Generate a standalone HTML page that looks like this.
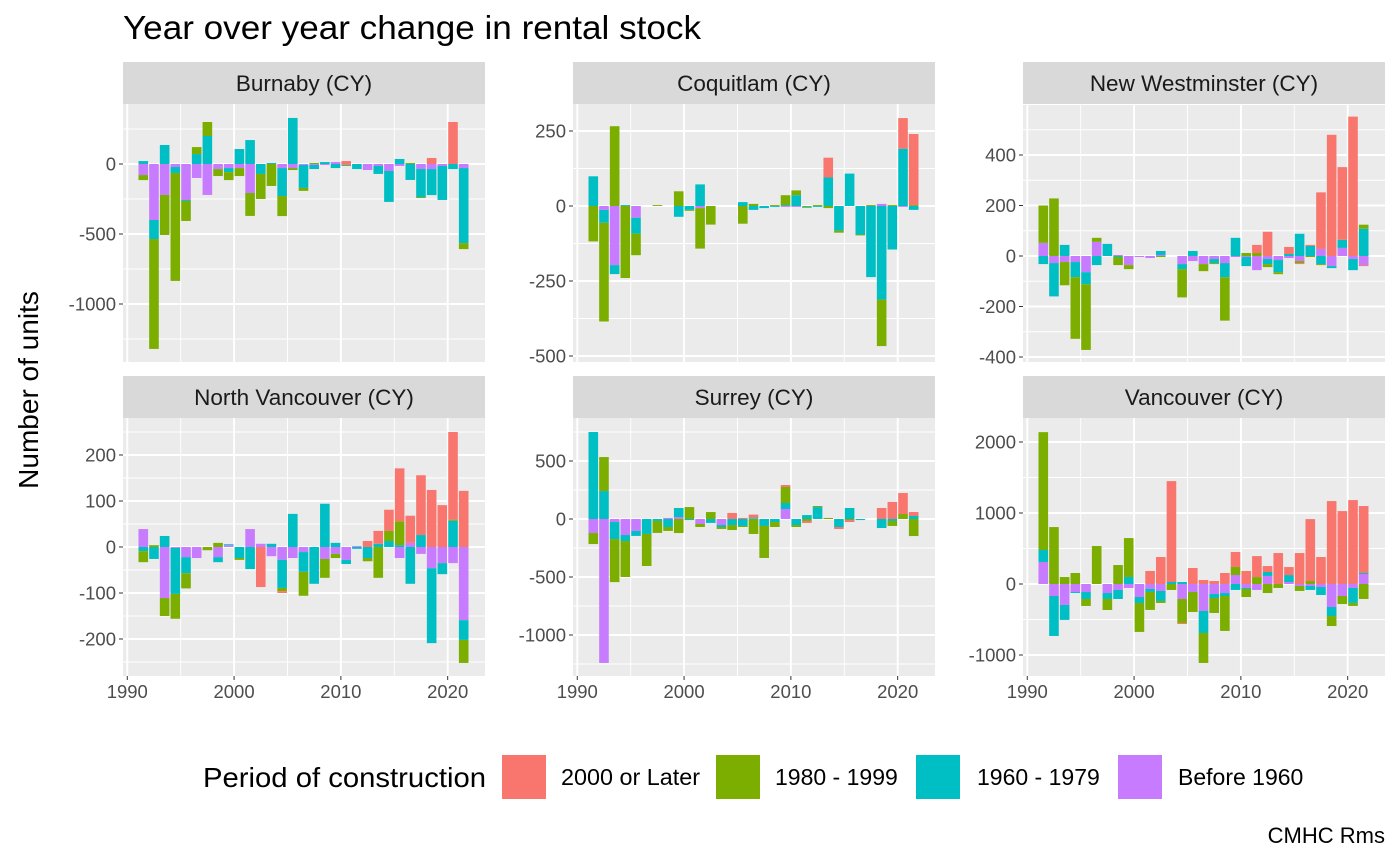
<!DOCTYPE html>
<html><head><meta charset="utf-8"><style>
body{margin:0;background:#fff;}
svg{display:block;font-family:"Liberation Sans",Arial,sans-serif;}
</style></head><body>
<svg id="chart" width="1400" height="865" viewBox="0 0 1400 865" xmlns="http://www.w3.org/2000/svg">
<rect width="1400" height="865" fill="#fff"/>
<text x="123" y="39" font-size="33" fill="#000" textLength="578" lengthAdjust="spacingAndGlyphs">Year over year change in rental stock</text>
<text transform="translate(38,390) rotate(-90)" text-anchor="middle" font-size="28" fill="#000">Number of units</text>
<g>
<text x="203" y="787" font-size="28" fill="#000" textLength="283" lengthAdjust="spacingAndGlyphs">Period of construction</text>
<rect x="502" y="755" width="44" height="44" fill="#F8766D"/>
<text x="561" y="785" font-size="23" fill="#000" textLength="139" lengthAdjust="spacingAndGlyphs">2000 or Later</text>
<rect x="716" y="755" width="44" height="44" fill="#7CAE00"/>
<text x="775" y="785" font-size="23" fill="#000">1980 - 1999</text>
<rect x="916" y="755" width="44" height="44" fill="#00BFC4"/>
<text x="977" y="785" font-size="23" fill="#000">1960 - 1979</text>
<rect x="1118" y="755" width="44" height="44" fill="#C77CFF"/>
<text x="1178" y="785" font-size="23" fill="#000">Before 1960</text>
</g>
<text x="1385" y="843" text-anchor="end" font-size="22" fill="#000">CMHC Rms</text>
</svg>
<script>
const years = [1991,1992,1993,1994,1995,1996,1997,1998,1999,2000,2001,2002,2003,2004,2005,2006,2007,2008,2009,2010,2011,2012,2013,2014,2015,2016,2017,2018,2019,2020,2021];
const categories = ["2000 or Later","1980 - 1999","1960 - 1979","Before 1960"];
const xTicks = [1990,2000,2010,2020];

const burnabyLater = [0,0,0,0,0,0,0,0,0,0,0,0,0,0,0,0,0,0,0,21,0,0,0,0,0,0,0,43,0,300,0];
const burnaby1980 = [-36,-785,-286,-771,-143,50,100,-50,-57,-57,-164,-179,-157,-143,-14,-21,7,0,0,-7,0,0,0,0,0,7,-7,0,0,0,-43];
const burnaby1960 = [21,-136,136,-43,-7,71,200,0,-29,107,171,-71,7,-200,329,-164,-29,14,-29,0,-36,0,-57,-221,36,-114,-200,-186,-243,-36,-536];
const burnabyPre = [-79,-400,-221,-21,-257,-100,-221,-36,-29,-29,-207,0,0,-29,-29,-7,-7,-7,14,-7,0,-43,-14,-50,-14,0,-36,-36,-14,0,-29];
const burnabyTicks = [-1000,-500,0];

const coquitlamLater = [0,0,0,0,0,0,0,0,0,0,0,0,0,0,0,0,0,0,0,0,0,0,66,0,0,0,0,0,0,102,237];
const coquitlam1980 = [-118,-329,266,-240,-72,0,3,0,49,-3,-135,-62,0,0,-59,7,0,3,33,16,-3,3,-7,-7,0,-3,3,-155,3,0,3];
const coquitlam1960 = [99,-43,-30,3,-53,0,0,0,-36,-13,72,0,0,0,13,-13,-7,-3,3,36,-3,-3,95,-82,108,-95,-237,-312,-145,191,-13];
const coquitlamPre = [0,-13,-197,0,-39,0,0,0,0,0,-7,0,0,0,0,0,0,0,-3,-3,0,0,0,0,0,0,0,7,0,-3,0];
const coquitlamTicks = [-500,-250,0,250];

const newwestLater = [0,0,0,0,0,0,0,0,0,0,0,0,0,0,0,0,0,0,0,0,32,96,0,28,-4,4,224,480,288,552,-4];
const newwest1980 = [148,228,-92,-244,-260,16,0,-32,-16,0,0,-4,0,-112,0,-28,-4,-172,0,12,12,-12,-8,0,-8,-4,-4,0,0,0,16];
const newwest1960 = [-32,-132,44,-60,-48,-36,48,-4,0,0,0,16,0,-20,20,0,-16,-56,72,-36,0,-20,-48,8,88,40,-32,-8,32,-44,108];
const newwestPre = [52,-28,-24,-24,-64,56,0,4,-36,-4,-8,4,0,-32,-20,-32,-12,-28,-4,-4,-56,-12,-16,-8,-20,0,28,-40,32,-12,-36];
const newwestTicks = [-400,-200,0,200,400];

const northvanLater = [0,0,0,0,0,0,0,0,0,0,0,-87,0,-4,0,0,0,0,0,0,0,13,28,46,115,59,130,124,91,191,122];
const northvan1980 = [-24,4,-39,-54,-33,0,-7,9,0,-4,0,0,0,-7,0,-52,0,-41,-9,0,0,-7,-67,22,52,0,0,0,0,2,-50];
const northvan1960 = [-9,-26,24,-100,-35,0,0,-11,2,-24,-48,0,7,-61,72,-43,-80,94,9,-9,-4,-24,7,13,4,-80,26,-163,-24,57,-43];
const northvanPre = [39,0,-111,-2,-22,-24,0,-22,4,0,39,7,-20,-28,-24,-11,0,-26,-15,-28,2,0,0,0,-24,9,-15,-46,-35,-35,-159];
const northvanTicks = [-200,-100,0,100,200];

const surreyLater = [0,0,0,0,0,0,0,0,0,0,0,0,0,52,9,26,0,0,17,0,-17,0,0,-17,-17,0,0,95,147,181,34];
const surrey1980 = [-95,293,-371,-310,0,-276,-103,-34,-121,103,-26,60,-17,-43,-9,-129,-276,-43,138,-17,-17,9,9,0,-9,0,0,0,-43,43,-147];
const surrey1960 = [750,241,-147,-52,-43,-129,-17,-69,78,-9,0,-34,-17,-52,-60,9,-60,-26,52,-52,34,103,0,-69,95,-9,0,-78,-17,0,26];
const surreyPre = [-121,-1241,-26,-138,-103,0,0,9,17,0,-43,0,-52,0,0,3,0,0,86,0,0,0,0,0,0,0,0,0,0,0,0];
const surreyTicks = [-1000,-500,0,500];

const vancouverLater = [0,0,0,0,0,0,0,0,0,0,183,380,1421,-14,225,56,42,155,211,183,295,84,436,113,436,872,380,1168,1027,1182,943];
const vancouver1980 = [1660,802,98,155,-98,535,-155,267,549,-408,-253,-28,-84,-338,-281,-422,-211,-492,113,-113,98,-127,-56,0,-70,42,0,-141,-113,-42,-211];
const vancouver1960 = [169,-563,-211,-14,-98,0,-84,-127,98,-84,-42,-141,28,28,0,-310,-56,-42,-84,-14,0,56,0,98,0,-56,-113,-127,0,-211,14];
const vancouverPre = [310,-169,-295,-113,-113,0,-127,-84,-56,-183,-70,-98,0,-211,-113,-380,-141,-127,127,-56,-84,113,0,28,-28,-28,-42,-324,-169,-56,141];
const vancouverTicks = [-1000,0,1000,2000];

const colors = ["#F8766D","#7CAE00","#00BFC4","#C77CFF"];
const NS = "http://www.w3.org/2000/svg";
const svg = document.getElementById("chart");
function mk(tag, attrs, parent){
  const e = document.createElementNS(NS, tag);
  for (const k in attrs) e.setAttribute(k, attrs[k]);
  (parent||svg).appendChild(e);
  return e;
}
const panels = [
  ["burnaby","Burnaby (CY)",[burnabyLater,burnaby1980,burnaby1960,burnabyPre],burnabyTicks,123,104,164,0.14,false],
  ["coquitlam","Coquitlam (CY)",[coquitlamLater,coquitlam1980,coquitlam1960,coquitlamPre],coquitlamTicks,573,104,206,0.3,false],
  ["new-westminster","New Westminster (CY)",[newwestLater,newwest1980,newwest1960,newwestPre],newwestTicks,1023,104,256,0.2525,false],
  ["north-vancouver","North Vancouver (CY)",[northvanLater,northvan1980,northvan1960,northvanPre],northvanTicks,123,418,547,0.46,true],
  ["surrey","Surrey (CY)",[surreyLater,surrey1980,surrey1960,surreyPre],surreyTicks,573,418,519,0.116,true],
  ["vancouver","Vancouver (CY)",[vancouverLater,vancouver1980,vancouver1960,vancouverPre],vancouverTicks,1023,418,584,0.071,true]
];
const W = 362, H = 258, PXYR = 10.68, X0YR = 1989.6;
panels.forEach(p => {
  const [id,label,series,ticks,x0,top,zero,k,bottom] = p;
  const g = mk("g",{});
  
  
  const xs = yr => x0 + (yr - X0YR) * PXYR;
  const ys = v => zero - v * k;
  const st = mk("rect",{x:x0,y:top-42,width:W,height:42,fill:"#D9D9D9"},g);
  
  
  const stt = mk("text",{x:x0+W/2,y:top-13,"text-anchor":"middle","font-size":"22.5",fill:"#1A1A1A"},g);
  stt.textContent = label;
  
  
  const bg = mk("rect",{x:x0,y:top,width:W,height:H,fill:"#EBEBEB"},g);
  
  
  const clipId = "clip-" + id;
  const cp = mk("clipPath",{id:clipId},g);
  mk("rect",{x:x0,y:top,width:W,height:H},cp);
  const gg = mk("g",{"clip-path":"url(#"+clipId+")"},g);
  const step = ticks[1]-ticks[0];
  for (let v = ticks[0]-step*3; v <= ticks[ticks.length-1]+step*3; v += step/2) {
    const y = ys(v);
    if (y < top || y > top+H) continue;
    const major = ticks.indexOf(v) >= 0;
    const ln = mk("line",{x1:x0,x2:x0+W,y1:y,y2:y,stroke:"#fff","stroke-width":major?1.9:0.9},gg);
    
    
  }
  for (let yr = 1985; yr <= 2025; yr += 5) {
    const x = xs(yr);
    if (x < x0 || x > x0+W) continue;
    const major = yr % 10 === 0;
    const ln = mk("line",{x1:x,x2:x,y1:top,y2:top+H,stroke:"#fff","stroke-width":major?1.9:0.9},gg);
    
    
  }
  years.forEach((yr,i) => {
    let pos = 0, neg = 0;
    for (let c = 3; c >= 0; c--) {
      const v = series[c][i];
      if (!v) continue;
      let a, b;
      if (v > 0) { a = pos; b = pos + v; pos = b; } else { a = neg; b = neg + v; neg = b; }
      const y1 = ys(Math.max(a,b)), y2 = ys(Math.min(a,b));
      const r = mk("rect",{x:xs(yr+0.5)-4.8,y:y1,width:9.6,height:Math.max(0.5,y2-y1),fill:colors[c]},gg);
      
      
    }
  });
  ticks.forEach(v => {
    const y = ys(v);
    mk("line",{x1:x0-4,x2:x0,y1:y,y2:y,stroke:"#333","stroke-width":1},g);
    const t = mk("text",{x:x0-7,y:y+6.5,"text-anchor":"end","font-size":"18.5",fill:"#4D4D4D"},g);
    t.textContent = v;
    
    
  });
  if (bottom) {
    xTicks.forEach(yr => {
      const x = xs(yr);
      mk("line",{x1:x,x2:x,y1:top+H,y2:top+H+4,stroke:"#333","stroke-width":1},g);
      const t = mk("text",{x:x,y:top+H+22,"text-anchor":"middle","font-size":"18.5",fill:"#4D4D4D"},g);
      t.textContent = yr;
      
      
    });
  }
});
</script>
</body></html>
